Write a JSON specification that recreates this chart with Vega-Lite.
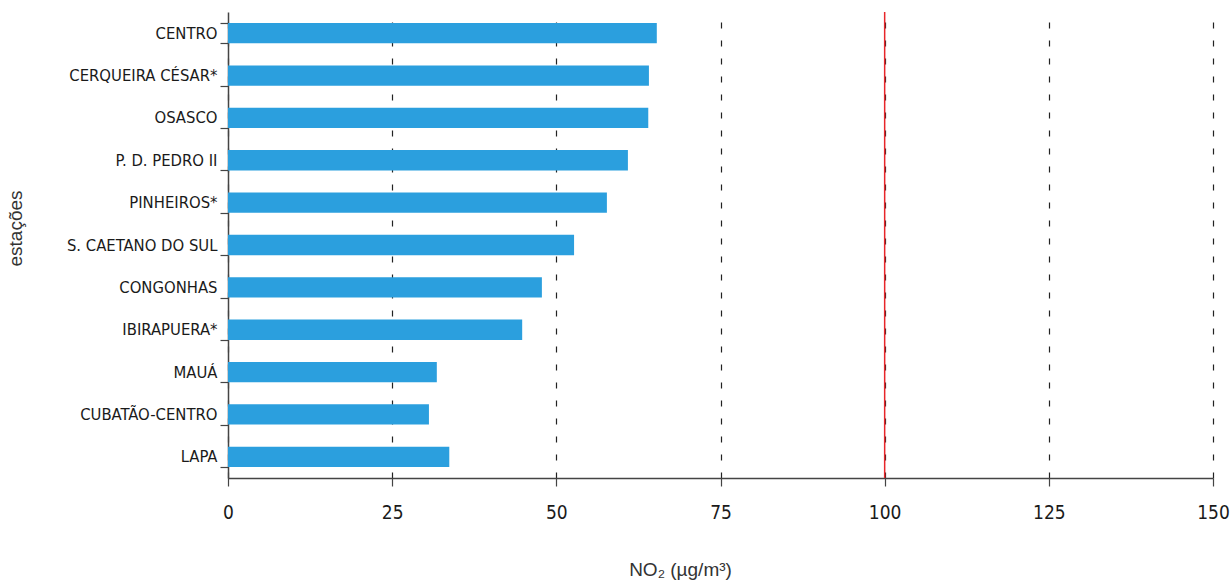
{
  "$schema": "https://vega.github.io/schema/vega-lite/v6.json",
  "width": 985,
  "height": 466,
  "autosize": "none",
  "padding": {"left": 228, "top": 12, "right": 17, "bottom": 105},
  "background": "white",
  "config": {
    "view": {"stroke": null},
    "font": "DejaVu Sans Condensed, Roboto, sans-serif"
  },
  "data": {
    "values": [
      {"estacao": "CENTRO", "no2": 65.3},
      {"estacao": "CERQUEIRA CÉSAR*", "no2": 64.1},
      {"estacao": "OSASCO", "no2": 64.0},
      {"estacao": "P. D. PEDRO II", "no2": 60.9},
      {"estacao": "PINHEIROS*", "no2": 57.7},
      {"estacao": "S. CAETANO DO SUL", "no2": 52.7},
      {"estacao": "CONGONHAS", "no2": 47.8},
      {"estacao": "IBIRAPUERA*", "no2": 44.8},
      {"estacao": "MAUÁ", "no2": 31.8},
      {"estacao": "CUBATÃO-CENTRO", "no2": 30.6},
      {"estacao": "LAPA", "no2": 33.7}
    ]
  },
  "layer": [
    {
      "mark": {"type": "bar", "color": "#2b9fde"},
      "encoding": {
        "y": {
          "field": "estacao",
          "type": "nominal",
          "sort": null,
          "scale": {"paddingInner": 0.52, "paddingOuter": 0.26},
          "axis": {
            "title": "estações",
            "titleFont": "Liberation Sans",
            "titleFontWeight": "normal",
            "titleFontSize": 19,
            "titleColor": "#333",
            "titleX": -203,
            "titleY": 216,
            "titleAngle": 270,
            "labelFont": "DejaVu Sans Condensed, Roboto, sans-serif",
            "labelFontSize": 16.5,
            "labelColor": "#1a1a1a",
            "labelPadding": 3,
            "tickSize": 8,
            "tickBand": "extent",
            "tickColor": "#444",
            "domainColor": "#444",
            "domainWidth": 1.5,
            "tickWidth": 1.2
          }
        },
        "x": {
          "field": "no2",
          "type": "quantitative",
          "scale": {"domain": [0, 150], "nice": false},
          "axis": {
            "values": [0, 25, 50, 75, 100, 125, 150],
            "title": "NO₂ (µg/m³)",
            "titleFont": "Liberation Sans",
            "titleFontWeight": "normal",
            "titleFontSize": 19,
            "titleColor": "#333",
            "titleX": 452,
            "titleY": 82,
            "labelFont": "DejaVu Sans Condensed, Roboto, sans-serif",
            "labelFontSize": 19,
            "labelColor": "#1a1a1a",
            "labelFlush": false,
            "labelPadding": 17,
            "tickSize": 8,
            "tickColor": "#444",
            "tickWidth": 1.2,
            "domainColor": "#444",
            "domainWidth": 1.5,
            "grid": true,
            "gridColor": "#222",
            "gridDash": [6, 12],
            "gridWidth": 1.2
          }
        }
      }
    },
    {
      "data": {"values": [{"limite": 100}]},
      "mark": {"type": "rule", "color": "#e8262a", "strokeWidth": 1.5},
      "encoding": {
        "x": {"field": "limite", "type": "quantitative"}
      }
    }
  ]
}
